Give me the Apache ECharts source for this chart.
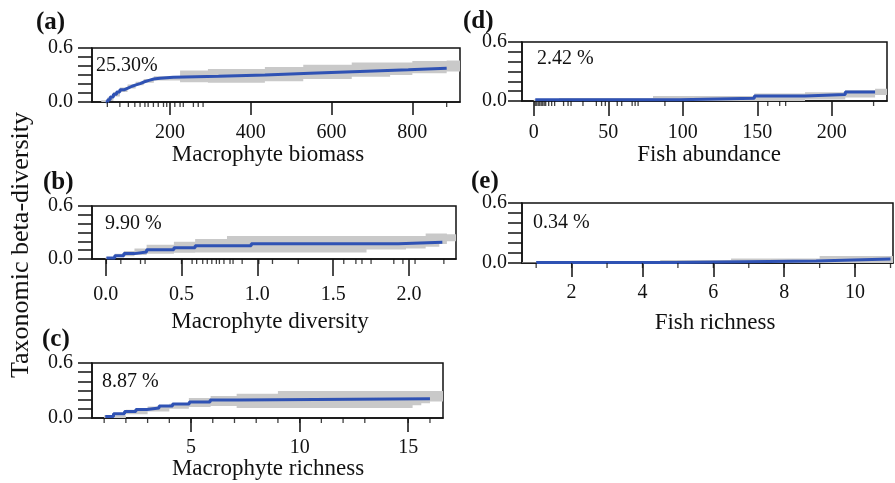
<!DOCTYPE html>
<html><head><meta charset="utf-8">
<script src="https://cdn.jsdelivr.net/npm/echarts@6/dist/echarts.min.js"></script>
<style>html,body{margin:0;padding:0;background:#fff}#c{width:895px;height:483px}</style>
</head><body><div id="c"></div>
<script>
// ---------- DATA ----------
// (a) Macrophyte biomass
const aLine = [[41,0],[46,0.025],[52,0.055],[60,0.085],[68,0.11],[76,0.135],[86,0.155],[96,0.175],[106,0.19],[116,0.205],[126,0.225],[137,0.24],[148,0.255],[160,0.265],[175,0.275],[208,0.285],[320,0.30],[435,0.32],[547,0.34],[670,0.357],[790,0.375],[885,0.375]];
const aBand = [[30,0,0.02],[45,0.01,0.05],[60,0.06,0.11],[76,0.11,0.16],[95,0.15,0.195],[115,0.185,0.225],[135,0.215,0.255],[160,0.24,0.285],[225,0.22,0.35],[294,0.215,0.367],[435,0.23,0.39],[530,0.255,0.415],[650,0.28,0.44],[745,0.30,0.44],[800,0.32,0.455],[885,0.34,0.46],[918,0.36,0.47]];
const aRug = [45,76,97,113,126,138,146,159,171,184,192,212,225,233,258,270,282,885];
const aTicks = [200,400,600,800];
// (b) Macrophyte diversity
const bLine = [[0.005,0.012],[0.06,0.038],[0.12,0.061],[0.19,0.08],[0.27,0.104],[0.45,0.127],[0.59,0.15],[0.96,0.173],[1.93,0.19],[2.22,0.19]];
const bBand = [[0.0,0.0,0.02],[0.06,0.02,0.06],[0.12,0.03,0.09],[0.19,0.045,0.12],[0.27,0.06,0.16],[0.45,0.07,0.196],[0.59,0.075,0.226],[0.8,0.075,0.26],[1.72,0.107,0.26],[1.98,0.12,0.26],[2.11,0.14,0.288],[2.2,0.17,0.288],[2.25,0.2,0.28],[2.31,0.24,0.28]];
const bRug = [0.005,0.1,0.23,0.26,0.5,0.57,0.6,0.64,0.67,0.7,0.73,0.75,0.78,0.82,0.84,0.9,1.01,1.1,1.27,1.57,1.65,1.69,1.75,1.9,1.96,2.04,2.23];
const bTicks = [0,0.5,1.0,1.5,2.0];
// (c) Macrophyte richness
const cLine = [[1.05,0.017],[1.43,0.046],[1.94,0.072],[2.46,0.094],[2.97,0.108],[3.53,0.13],[4.15,0.152],[4.92,0.174],[5.88,0.196],[7.16,0.21],[16.0,0.21]];
const cBand = [[1.0,0.0,0.03],[2.0,0.04,0.09],[3.0,0.07,0.125],[4.0,0.1,0.155],[4.9,0.12,0.218],[5.9,0.13,0.24],[7.1,0.11,0.265],[9.0,0.11,0.295],[14.8,0.11,0.295],[15.2,0.14,0.295],[15.6,0.16,0.295],[16.0,0.18,0.295],[16.6,0.2,0.295]];
const cRug = [1,2,3,4,5,6,7,8,9,10,11,12,13,15,16];
const cTicks = [5,10,15];
// (d) Fish abundance
const dLine = [[1,0.012],[98,0.029],[148,0.05],[182,0.067],[209,0.091],[229,0.091]];
const dBand = [[0,0,0.015],[17,0,0.03],[80,0,0.05],[148,0,0.077],[182,0.015,0.09],[209,0.035,0.11],[229,0.06,0.125],[237,0.08,0.14]];
const dRug = [1,2,3,4,5,6,7,8,10,12,14,20,23,25,33,42,45.5,48,56,59,66,68,70,88,157,165,169,228];
const dTicks = [0,50,100,150,200];
// (e) Fish richness
const eLine = [[1,0.004],[4.9,0.021],[8.9,0.04],[11,0.04]];
const eBand = [[0.6,0,0.005],[1,0,0.008],[3,0,0.015],[4.5,0,0.03],[6.5,0,0.045],[9,0,0.07],[11.07,0.01,0.07]];
const eRug = [1,2,3,4,5,6,7,8,9,10,11];
const eTicks = [2,4,6,8,10];

const panelTags = ['(a)','(b)','(c)','(d)','(e)'];
const percents = ['25.30%','9.90 %','8.87 %','2.42 %','0.34 %'];
const xTitles = ['Macrophyte biomass','Macrophyte diversity','Macrophyte richness','Fish abundance','Fish richness'];
const yTitle = 'Taxonomic beta-diversity';

// ---------- LAYOUT ----------
const FONT = 'Liberation Serif';
const BLUE = '#2f52b4', GRAY = '#c9c9c9', INK = '#111';
const layout = [
  {grid:{left:92,top:48,width:368,height:54}, min:7, max:918, tickLen:13, lblMargin:21, yMargin:19, fmt:v=>String(v),
   tag:[36,23], pct:[96,66], title:[268,155]},
  {grid:{left:92,top:206,width:364,height:53}, min:-0.09, max:2.31, tickLen:17, lblMargin:26, yMargin:19, fmt:v=>v.toFixed(1),
   tag:[43,183], pct:[105,224], title:[270,322]},
  {grid:{left:92,top:363,width:351,height:55}, min:0.44, max:16.6, tickLen:14, lblMargin:20, yMargin:19, fmt:v=>String(v),
   tag:[42,340], pct:[102,382], title:[268,469]},
  {grid:{left:522,top:42,width:365,height:59}, min:-7.9, max:237, tickLen:15, lblMargin:22, yMargin:15, fmt:v=>String(v),
   tag:[463,22], pct:[537,59], title:[709,155]},
  {grid:{left:522,top:203,width:371,height:60}, min:0.6, max:11.07, tickLen:14, lblMargin:20, yMargin:15, fmt:v=>String(v),
   tag:[471,182], pct:[533,223], title:[715,323]}
];
const lines = [aLine,bLine,cLine,dLine,eLine];
const bands = [aBand,bBand,cBand,dBand,eBand];
const rugs = [aRug,bRug,cRug,dRug,eRug];
const ticks = [aTicks,bTicks,cTicks,dTicks,eTicks];

const grids=[], xAxes=[], yAxes=[], series=[], graphics=[];
layout.forEach((L,i)=>{
  grids.push(Object.assign({show:true,borderColor:INK,borderWidth:1.5,containLabel:false}, L.grid));
  xAxes.push({type:'value', gridIndex:i, min:L.min, max:L.max, splitLine:{show:false},
    axisLine:{show:true,onZero:false,lineStyle:{color:INK,width:1.5}},
    axisTick:{show:true,inside:false,length:L.tickLen,customValues:ticks[i],lineStyle:{color:INK,width:1.5}},
    axisLabel:{customValues:ticks[i],margin:L.lblMargin,fontFamily:FONT,fontSize:20,color:INK,formatter:L.fmt}});
  yAxes.push({type:'value', gridIndex:i, min:0, max:0.6, interval:0.1, splitLine:{show:false},
    axisLine:{show:true,onZero:false,lineStyle:{color:INK,width:1.5}},
    axisTick:{show:true,inside:false,length:14,lineStyle:{color:INK,width:1.5}},
    axisLabel:{margin:L.yMargin,fontFamily:FONT,fontSize:20,color:INK,
      formatter:v=>Math.abs(v)<1e-9?'0.0':(Math.abs(v-0.6)<1e-9?'0.6':'')}});
  const band = bands[i];
  series.push({type:'custom', xAxisIndex:i, yAxisIndex:i, clip:true, silent:true, z:1,
    data:[[band[0][0], band[0][1]]],
    renderItem:(params, api)=>{
      const up=[], lo=[];
      for(let k=0;k<band.length;k++){
        const x=band[k][0], l=band[k][1], h=band[k][2];
        const xn = k<band.length-1 ? band[k+1][0] : x;
        up.push(api.coord([x,h]), api.coord([xn,h]));
        lo.push(api.coord([x,l]), api.coord([xn,l]));
      }
      return {type:'polygon', shape:{points:up.concat(lo.reverse())}, style:{fill:GRAY}};
    }});
  series.push({type:'line', xAxisIndex:i, yAxisIndex:i, step:'end', showSymbol:false, silent:true, z:3,
    data:lines[i], lineStyle:{color:BLUE,width:3}});
  series.push({type:'scatter', xAxisIndex:i, yAxisIndex:i, clip:false, silent:true, z:4,
    data:rugs[i].map(x=>[x,0]), symbol:'rect', symbolSize:[1.3,5], symbolOffset:[0,2.5],
    itemStyle:{color:INK}});
  graphics.push({type:'text', x:L.tag[0], y:L.tag[1], style:{text:panelTags[i], font:'bold 25px "'+FONT+'"', fill:INK, align:'left', verticalAlign:'middle', textAlign:'left', textVerticalAlign:'middle'}});
  graphics.push({type:'text', x:L.pct[0], y:L.pct[1], style:{text:percents[i], font:'20px "'+FONT+'"', fill:INK, align:'left', verticalAlign:'middle', textAlign:'left', textVerticalAlign:'middle'}});
  graphics.push({type:'text', x:L.title[0], y:L.title[1], style:{text:xTitles[i], font:'23px "'+FONT+'"', fill:INK, align:'center', verticalAlign:'middle', textAlign:'center', textVerticalAlign:'middle'}});
});
graphics.push({type:'text', x:21, y:245, rotation:Math.PI/2, style:{text:yTitle, font:'26px "'+FONT+'"', fill:INK, align:'center', verticalAlign:'middle', textAlign:'center', textVerticalAlign:'middle'}});

const chart = echarts.init(document.getElementById('c'), null, {renderer:'canvas'});
chart.setOption({animation:false, backgroundColor:'#fff', grid:grids, xAxis:xAxes, yAxis:yAxes, series:series, graphic:graphics});
</script></body></html>
